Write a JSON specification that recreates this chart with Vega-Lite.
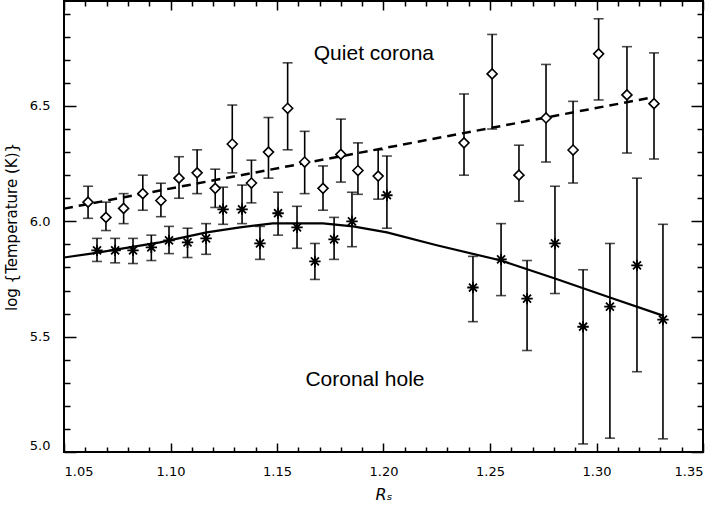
{
  "$schema": "https://vega.github.io/schema/vega-lite/v6.json",
  "width": 639,
  "height": 451,
  "autosize": {"type": "none"},
  "padding": {"left": 64, "top": 1, "right": 17, "bottom": 60},
  "background": "white",
  "config": {
    "view": {"stroke": "#000", "strokeWidth": 2},
    "font": "DejaVu Sans",
    "axis": {"domain": false, "grid": false, "ticks": true, "tickColor": "#000", "tickWidth": 1.5, "labelColor": "#000", "titleColor": "#000", "labelOverlap": false, "labelFont": "DejaVu Sans", "titleFont": "DejaVu Sans", "titleFontWeight": "normal"}
  },
  "resolve": {"axis": {"x": "independent", "y": "independent"}},
  "datasets": {
    "quiet": [
      {"r": 1.0613, "t": 6.083, "lo": 6.013, "hi": 6.152},
      {"r": 1.0697, "t": 6.017, "lo": 5.96, "hi": 6.083},
      {"r": 1.078, "t": 6.056, "lo": 5.99, "hi": 6.12},
      {"r": 1.087, "t": 6.12, "lo": 6.048, "hi": 6.2},
      {"r": 1.0955, "t": 6.09, "lo": 6.02, "hi": 6.165},
      {"r": 1.104, "t": 6.187, "lo": 6.1, "hi": 6.28},
      {"r": 1.1125, "t": 6.21, "lo": 6.12, "hi": 6.31},
      {"r": 1.121, "t": 6.143, "lo": 6.06, "hi": 6.226},
      {"r": 1.129, "t": 6.335, "lo": 6.21, "hi": 6.504},
      {"r": 1.138, "t": 6.166, "lo": 6.08, "hi": 6.265},
      {"r": 1.146, "t": 6.3, "lo": 6.187, "hi": 6.45},
      {"r": 1.155, "t": 6.49, "lo": 6.31, "hi": 6.687},
      {"r": 1.163, "t": 6.257, "lo": 6.12, "hi": 6.39},
      {"r": 1.1716, "t": 6.143, "lo": 6.048, "hi": 6.24},
      {"r": 1.18, "t": 6.29, "lo": 6.17, "hi": 6.443},
      {"r": 1.188, "t": 6.22, "lo": 6.117, "hi": 6.34},
      {"r": 1.1975, "t": 6.196, "lo": 6.096, "hi": 6.31},
      {"r": 1.2378, "t": 6.34, "lo": 6.2, "hi": 6.552},
      {"r": 1.251, "t": 6.639, "lo": 6.4, "hi": 6.81},
      {"r": 1.2636, "t": 6.2, "lo": 6.087, "hi": 6.33},
      {"r": 1.2763, "t": 6.448, "lo": 6.257, "hi": 6.68},
      {"r": 1.289, "t": 6.309, "lo": 6.166, "hi": 6.52},
      {"r": 1.301, "t": 6.726, "lo": 6.526, "hi": 6.878},
      {"r": 1.3143, "t": 6.548, "lo": 6.296, "hi": 6.757},
      {"r": 1.327, "t": 6.51, "lo": 6.27, "hi": 6.73}
    ],
    "hole": [
      {"r": 1.0655, "t": 5.874, "lo": 5.826, "hi": 5.926},
      {"r": 1.074, "t": 5.874, "lo": 5.82, "hi": 5.926},
      {"r": 1.0824, "t": 5.874, "lo": 5.817, "hi": 5.926},
      {"r": 1.091, "t": 5.887, "lo": 5.83, "hi": 5.94},
      {"r": 1.0993, "t": 5.917, "lo": 5.86, "hi": 5.978},
      {"r": 1.108, "t": 5.909, "lo": 5.843, "hi": 5.97},
      {"r": 1.1167, "t": 5.926, "lo": 5.857, "hi": 5.99},
      {"r": 1.1247, "t": 6.052, "lo": 5.987, "hi": 6.148},
      {"r": 1.1336, "t": 6.052, "lo": 5.99, "hi": 6.157},
      {"r": 1.142, "t": 5.904, "lo": 5.835, "hi": 5.978},
      {"r": 1.1505, "t": 6.035, "lo": 5.94, "hi": 6.126},
      {"r": 1.1594, "t": 5.974, "lo": 5.883, "hi": 6.065},
      {"r": 1.1678, "t": 5.826, "lo": 5.748, "hi": 5.904},
      {"r": 1.1768, "t": 5.922, "lo": 5.835, "hi": 6.017},
      {"r": 1.1852, "t": 6.0, "lo": 5.89, "hi": 6.126},
      {"r": 1.2016, "t": 6.113, "lo": 5.97, "hi": 6.283},
      {"r": 1.242, "t": 5.713, "lo": 5.565, "hi": 5.848},
      {"r": 1.2552, "t": 5.835, "lo": 5.678, "hi": 5.99},
      {"r": 1.2674, "t": 5.665, "lo": 5.44, "hi": 5.83},
      {"r": 1.2805, "t": 5.904, "lo": 5.687, "hi": 6.152},
      {"r": 1.2937, "t": 5.543, "lo": 5.035, "hi": 5.79},
      {"r": 1.3063, "t": 5.63, "lo": 5.06, "hi": 5.904},
      {"r": 1.319, "t": 5.809, "lo": 5.348, "hi": 6.187},
      {"r": 1.3312, "t": 5.574, "lo": 5.057, "hi": 5.987}
    ],
    "quietfit": [
      {"r": 1.05, "t": 6.055},
      {"r": 1.325, "t": 6.535}
    ],
    "holefit": [
      {"r": 1.05, "t": 5.843},
      {"r": 1.0636, "t": 5.861},
      {"r": 1.095, "t": 5.909},
      {"r": 1.117, "t": 5.952},
      {"r": 1.1326, "t": 5.974},
      {"r": 1.148, "t": 5.991},
      {"r": 1.1716, "t": 5.991},
      {"r": 1.1857, "t": 5.978},
      {"r": 1.2016, "t": 5.952},
      {"r": 1.225, "t": 5.896},
      {"r": 1.2552, "t": 5.83},
      {"r": 1.2805, "t": 5.752},
      {"r": 1.3063, "t": 5.67},
      {"r": 1.3312, "t": 5.591}
    ],
    "labels": [
      {"r": 1.1955, "t": 6.699, "label": "Quiet corona"},
      {"r": 1.1913, "t": 5.2876, "label": "Coronal hole"}
    ]
  },
  "layer": [
    {
      "data": {"name": "quiet"},
      "mark": {"type": "rule", "color": "#000", "strokeWidth": 1.6},
      "encoding": {
        "x": {"field": "r", "type": "quantitative", "scale": {"domain": [1.05, 1.35], "nice": false, "zero": false},
          "axis": {"orient": "bottom", "title": "Rₛ", "titleFontStyle": "italic", "titleFontSize": 16, "titlePadding": 8,
            "values": [1.05, 1.1, 1.15, 1.2, 1.25, 1.3, 1.35], "format": ".2f", "tickSize": -9, "labelPadding": 22, "labelFontSize": 13}},
        "y": {"field": "lo", "type": "quantitative", "scale": {"domain": [5.0, 6.955], "nice": false, "zero": false},
          "axis": {"orient": "left", "title": "log {Temperature (K)}", "titleFontSize": 15, "titlePadding": 10,
            "values": [5.0, 5.5, 6.0, 6.5], "format": ".1f", "tickSize": -12, "labelPadding": 26, "labelFontSize": 13, "labelFlush": true}},
        "y2": {"field": "hi"}
      }
    },
    {
      "data": {"name": "quiet"},
      "mark": {"type": "tick", "orient": "horizontal", "color": "#000", "size": 10, "thickness": 1.6},
      "encoding": {
        "x": {"field": "r", "type": "quantitative",
          "axis": {"orient": "bottom", "title": null, "labels": false, "tickSize": -5,
            "values": [1.06, 1.07, 1.08, 1.09, 1.11, 1.12, 1.13, 1.14, 1.16, 1.17, 1.18, 1.19, 1.21, 1.22, 1.23, 1.24, 1.26, 1.27, 1.28, 1.29, 1.31, 1.32, 1.33, 1.34]}},
        "y": {"field": "hi", "type": "quantitative",
          "axis": {"orient": "left", "title": null, "labels": false, "tickSize": -6,
            "values": [5.1, 5.2, 5.3, 5.4, 5.6, 5.7, 5.8, 5.9, 6.1, 6.2, 6.3, 6.4, 6.6, 6.7, 6.8, 6.9]}}
      }
    },
    {
      "data": {"name": "quiet"},
      "mark": {"type": "tick", "orient": "horizontal", "color": "#000", "size": 10, "thickness": 1.6},
      "encoding": {
        "x": {"field": "r", "type": "quantitative", "axis": null},
        "y": {"field": "lo", "type": "quantitative", "axis": null}
      }
    },
    {
      "data": {"name": "hole"},
      "mark": {"type": "rule", "color": "#000", "strokeWidth": 1.6},
      "encoding": {
        "x": {"field": "r", "type": "quantitative",
          "axis": {"orient": "top", "title": null, "labels": false, "tickSize": -9,
            "values": [1.05, 1.1, 1.15, 1.2, 1.25, 1.3, 1.35]}},
        "y": {"field": "lo", "type": "quantitative",
          "axis": {"orient": "right", "title": null, "labels": false, "tickSize": -12,
            "values": [5.0, 5.5, 6.0, 6.5]}},
        "y2": {"field": "hi"}
      }
    },
    {
      "data": {"name": "hole"},
      "mark": {"type": "tick", "orient": "horizontal", "color": "#000", "size": 10, "thickness": 1.6},
      "encoding": {
        "x": {"field": "r", "type": "quantitative",
          "axis": {"orient": "top", "title": null, "labels": false, "tickSize": -5,
            "values": [1.06, 1.07, 1.08, 1.09, 1.11, 1.12, 1.13, 1.14, 1.16, 1.17, 1.18, 1.19, 1.21, 1.22, 1.23, 1.24, 1.26, 1.27, 1.28, 1.29, 1.31, 1.32, 1.33, 1.34]}},
        "y": {"field": "hi", "type": "quantitative",
          "axis": {"orient": "right", "title": null, "labels": false, "tickSize": -6,
            "values": [5.1, 5.2, 5.3, 5.4, 5.6, 5.7, 5.8, 5.9, 6.1, 6.2, 6.3, 6.4, 6.6, 6.7, 6.8, 6.9]}}
      }
    },
    {
      "data": {"name": "hole"},
      "mark": {"type": "tick", "orient": "horizontal", "color": "#000", "size": 10, "thickness": 1.6},
      "encoding": {
        "x": {"field": "r", "type": "quantitative", "axis": null},
        "y": {"field": "lo", "type": "quantitative", "axis": null}
      }
    },
    {
      "data": {"name": "quietfit"},
      "mark": {"type": "line", "color": "#000", "strokeWidth": 2.5, "strokeDash": [9, 6]},
      "encoding": {
        "x": {"field": "r", "type": "quantitative", "axis": null},
        "y": {"field": "t", "type": "quantitative", "axis": null}
      }
    },
    {
      "data": {"name": "holefit"},
      "mark": {"type": "line", "color": "#000", "strokeWidth": 2.2},
      "encoding": {
        "x": {"field": "r", "type": "quantitative", "axis": null},
        "y": {"field": "t", "type": "quantitative", "axis": null}
      }
    },
    {
      "data": {"name": "quiet"},
      "mark": {"type": "point", "shape": "diamond", "filled": true, "fill": "white", "stroke": "#000", "strokeWidth": 1.6, "size": 100, "opacity": 1},
      "encoding": {
        "x": {"field": "r", "type": "quantitative", "axis": null},
        "y": {"field": "t", "type": "quantitative", "axis": null}
      }
    },
    {
      "data": {"name": "hole"},
      "mark": {"type": "point", "shape": "M-1,0L1,0M0,-1L0,1M-0.7,-0.7L0.7,0.7M-0.7,0.7L0.7,-0.7", "filled": false, "stroke": "#000", "strokeWidth": 1.8, "size": 130, "opacity": 1},
      "encoding": {
        "x": {"field": "r", "type": "quantitative", "axis": null},
        "y": {"field": "t", "type": "quantitative", "axis": null}
      }
    },
    {
      "data": {"name": "labels"},
      "mark": {"type": "text", "font": "Liberation Sans", "fontSize": 21, "align": "center", "baseline": "alphabetic", "color": "#000"},
      "encoding": {
        "x": {"field": "r", "type": "quantitative", "axis": null},
        "y": {"field": "t", "type": "quantitative", "axis": null},
        "text": {"field": "label"}
      }
    }
  ]
}
